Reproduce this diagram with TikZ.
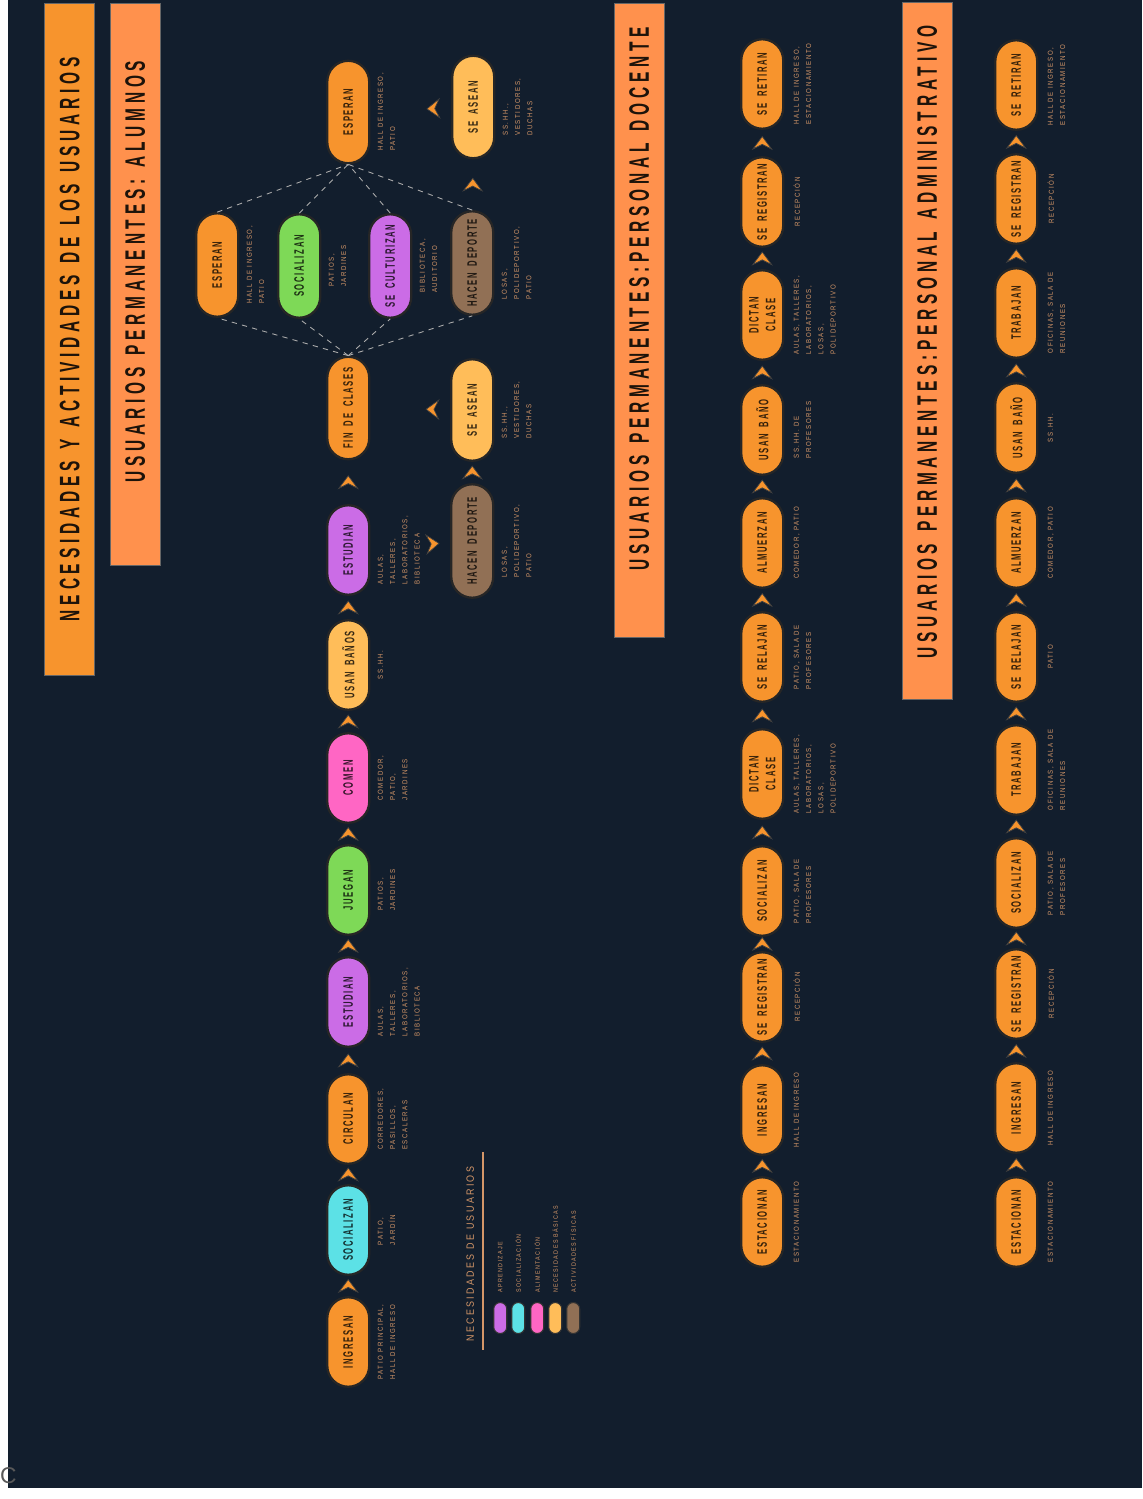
\documentclass[tikz,border=0pt]{standalone}
\usepackage{fontspec}
\usepackage{tikz}
\usetikzlibrary{arrows.meta,shapes.misc,calc,decorations.markings}
\setmainfont{Liberation Sans}
\newfontfamily\titfont[FakeStretch=0.55,LetterSpace=17,WordSpace=1.3]{Liberation Sans}
\newfontfamily\actfont[FakeStretch=0.56,LetterSpace=12,WordSpace=1.8]{Liberation Sans}
\newfontfamily\lugfont[FakeStretch=0.85,LetterSpace=22]{Liberation Sans}
\definecolor{fondoAzul}  {RGB}{18,  30,  45}
\definecolor{usrNaranja} {RGB}{247, 148,  45}
\definecolor{usrSalmon}  {RGB}{255, 145,  77}
\definecolor{usrMorado}  {RGB}{203, 108, 230}
\definecolor{usrCian}    {RGB}{92,  225, 230}
\definecolor{usrRosa}    {RGB}{255, 102, 196}
\definecolor{usrAmarillo}{RGB}{255, 189,  89}
\definecolor{usrVerde}   {RGB}{126, 217,  87}
\definecolor{usrMarron}  {RGB}{145, 112,  85}
\definecolor{usrTexto}   {RGB}{212, 150, 104}

\begin{document}
\begin{tikzpicture}[x=0.02cm,y=-0.02cm,
    act/.style={rounded rectangle,rotate=90,draw=black!85,line width=1.3pt,
      fill=#1,text=#1!22!black,minimum width=1.86cm,minimum height=0.84cm,
      inner sep=1pt,align=center,font=\actfont\bfseries\fontsize{7.8}{9.5}\selectfont},
    lug/.style={rotate=90,anchor=north,align=left,inner sep=0pt,text=usrTexto,
      font=\lugfont\fontsize{4.1}{7}\selectfont},
    barra/.style={rectangle,rotate=90,fill=#1,draw=black!60,line width=0.4pt,
      minimum height=1.0cm,inner sep=0pt,text=black!85!brown,
      font=\titfont\bfseries\fontsize{16}{18}\selectfont},
    muestra/.style={rounded rectangle,rotate=90,fill=#1,draw=black!80,line width=0.6pt,
      minimum width=0.62cm,minimum height=0.26cm,inner sep=0pt},
    chev/.style={postaction={decorate},decoration={markings,
      mark=at position #1 with {\arrow[xshift=4pt]{Stealth[length=8pt,width=12pt,
        inset=3pt,fill=usrNaranja,color=black!75,line width=0.4pt]}}}},
    chev/.default=0.5,
    guia/.style={draw=gray!65,dashed,line width=0.5pt}]
  % Fondo
  \fill[white] (0,0) rectangle (1140,1499);
  \fill[fondoAzul] (6,0) rectangle (1140,1488);
  \node[text=gray!70!black,font=\fontsize{13}{13}\selectfont,inner sep=0pt] (marca) at (6,1476) {C};

  % Titulos
  \node[barra=usrNaranja,minimum width=13.44cm] (tit) at (67.5,339)
    {NECESIDADES Y ACTIVIDADES DE LOS USUARIOS};
  \node[barra=usrSalmon,minimum width=11.24cm] (tal) at (133,284)
    {\hspace*{14pt}USUARIOS PERMANENTES: ALUMNOS};
  \node[barra=usrSalmon,minimum width=12.68cm] (tdo) at (637,320)
    {\hspace*{24pt}USUARIOS PERMANENTES:PERSONAL DOCENTE};
  \node[barra=usrSalmon,minimum width=13.94cm] (tad) at (925,351)
    {\hspace*{10pt}USUARIOS PERMANENTES:PERSONAL ADMINISTRATIVO};

  % Alumnos: cadena principal (indice, y, color, actividad, lugar)
  \foreach \i/\y/\col/\nom/\sitio in {
    1/1342/usrNaranja/INGRESAN/{PATIO PRINCIPAL,\\HALL DE INGRESO},
    2/1230/usrCian/SOCIALIZAN/{PATIO,\\JARDÍN},
    3/1119/usrNaranja/CIRCULAN/{CORREDORES,\\PASILLOS,\\ESCALERAS},
    4/1002/usrMorado/ESTUDIAN/{AULAS,\\TALLERES,\\LABORATORIOS,\\BIBLIOTECA},
    5/890/usrVerde/JUEGAN/{PATIOS,\\JARDINES},
    6/778/usrRosa/COMEN/{COMEDOR,\\PATIO,\\JARDINES},
    7/665/usrAmarillo/USAN BAÑOS/{SS.HH.},
    8/550/usrMorado/ESTUDIAN/{AULAS,\\TALLERES,\\LABORATORIOS,\\BIBLIOTECA}}{
    \node[act=\col] (al\i) at (346,\y) {\nom};
    \node[lug] (lal\i) at ($(al\i.south)+(7,0)$) {\sitio};
  }
  \node[act=usrNaranja,minimum width=2.12cm] (al9) at (346,408) {FIN DE CLASES};
  \node[act=usrNaranja,minimum width=2.12cm] (al10) at (346,112) {ESPERAN};
  \node[lug] (lal10) at ($(al10.south)+(7,0)$) {HALL DE INGRESO,\\PATIO};

  % Alumnos: despues de clases
  \foreach \i/\x/\y/\col/\nom/\sitio in {
    1/215/265/usrNaranja/ESPERAN/{HALL DE INGRESO,\\PATIO},
    2/297/266/usrVerde/SOCIALIZAN/{PATIOS,\\JARDINES},
    3/388/266/usrMorado/SE CULTURIZAN/{BIBLIOTECA,\\AUDITORIO},
    4/470/263/usrMarron/HACEN DEPORTE/{LOSAS,\\POLIDEPORTIVO,\\PATIO}}{
    \node[act=\col,minimum width=2.14cm] (d\i) at (\x,\y) {\nom};
    \node[lug] (ld\i) at ($(d\i.south)+(7,0)$) {\sitio};
    \draw[guia] (al9.east) -- (d\i.west);
    \draw[guia] (d\i.east) -- (al10.west);
  }
  \node[act=usrAmarillo,minimum width=2.12cm] (s1) at (471,107) {SE ASEAN};
  \node[lug] (ls1) at ($(s1.south)+(7,0)$) {SS.HH.,\\VESTIDORES,\\DUCHAS};
  \node[act=usrMarron,minimum width=2.34cm] (h2) at (470,541) {HACEN DEPORTE};
  \node[lug] (lh2) at ($(h2.south)+(7,0)$) {LOSAS,\\POLIDEPORTIVO,\\PATIO};
  \node[act=usrAmarillo,minimum width=2.1cm] (s2) at (470,410) {SE ASEAN};
  \node[lug] (ls2) at ($(s2.south)+(7,0)$) {SS.HH.,\\VESTIDORES,\\DUCHAS};

  \foreach \a [count=\b from 2] in {1,...,8}
    \path[chev] (al\a) -- (al\b);
  \path[chev] (d4) -- (s1);
  \path[chev=0.22] (s1) -- (al10);
  \path[chev=0.78] (al8) -- (h2);
  \path[chev] (h2) -- (s2);
  \path[chev=0.22] (s2) -- (al9);

  % Leyenda
  \node[rotate=90,anchor=west,inner sep=0pt,text=usrTexto,
    font=\lugfont\fontsize{6}{8}\selectfont] (ley) at (468,1342) {NECESIDADES DE USUARIOS};
  \draw[usrTexto,line width=0.9pt] (481,1152) -- (481,1350);
  \foreach \i/\x/\col/\nec in {
    1/498/usrMorado/APRENDIZAJE,
    2/516/usrCian/SOCIALIZACIÓN,
    3/535/usrRosa/ALIMENTACIÓN,
    4/553/usrAmarillo/NECESIDADES BÁSICAS,
    5/571/usrMarron/ACTIVIDADES FÍSICAS}{
    \node[muestra=\col] (m\i) at (\x,1318) {};
    \node[rotate=90,anchor=west,inner sep=0pt,text=usrTexto,
      font=\lugfont\fontsize{3.6}{5}\selectfont] (lm\i) at (\x,1293) {\nec};
  }

  % Personal docente
  \foreach \i/\y/\nom/\sitio in {
    1/1222/ESTACIONAN/ESTACIONAMIENTO,
    2/1110/INGRESAN/HALL DE INGRESO,
    3/997/SE REGISTRAN/RECEPCIÓN,
    4/891/SOCIALIZAN/{PATIO, SALA DE\\PROFESORES},
    5/774/{DICTAN\\CLASE}/{AULAS, TALLERES,\\LABORATORIOS,\\LOSAS,\\POLIDEPORTIVO},
    6/657/SE RELAJAN/{PATIO, SALA DE\\PROFESORES},
    7/543/ALMUERZAN/{COMEDOR, PATIO},
    8/430/USAN BAÑO/{SS.HH. DE\\PROFESORES},
    9/315/{DICTAN\\CLASE}/{AULAS, TALLERES,\\LABORATORIOS,\\LOSAS,\\POLIDEPORTIVO},
    10/202/SE REGISTRAN/RECEPCIÓN,
    11/84/SE RETIRAN/{HALL DE INGRESO,\\ESTACIONAMIENTO}}{
    \node[act=usrNaranja] (do\i) at (760,\y) {\nom};
    \node[lug] (ldo\i) at ($(do\i.south)+(9,0)$) {\sitio};
  }
  \foreach \a [count=\b from 2] in {1,...,10}
    \path[chev] (do\a) -- (do\b);

  % Personal administrativo
  \foreach \i/\y/\nom/\sitio in {
    1/1222/ESTACIONAN/ESTACIONAMIENTO,
    2/1108/INGRESAN/HALL DE INGRESO,
    3/994/SE REGISTRAN/RECEPCIÓN,
    4/883/SOCIALIZAN/{PATIO, SALA DE\\PROFESORES},
    5/770/TRABAJAN/{OFICINAS, SALA DE\\REUNIONES},
    6/657/SE RELAJAN/PATIO,
    7/543/ALMUERZAN/{COMEDOR, PATIO},
    8/428/USAN BAÑO/SS.HH.,
    9/313/TRABAJAN/{OFICINAS, SALA DE\\REUNIONES},
    10/199/SE REGISTRAN/RECEPCIÓN,
    11/85/SE RETIRAN/{HALL DE INGRESO,\\ESTACIONAMIENTO}}{
    \node[act=usrNaranja] (ad\i) at (1014,\y) {\nom};
    \node[lug] (lad\i) at ($(ad\i.south)+(9,0)$) {\sitio};
  }
  \foreach \a [count=\b from 2] in {1,...,10}
    \path[chev] (ad\a) -- (ad\b);
\end{tikzpicture}
\end{document}
